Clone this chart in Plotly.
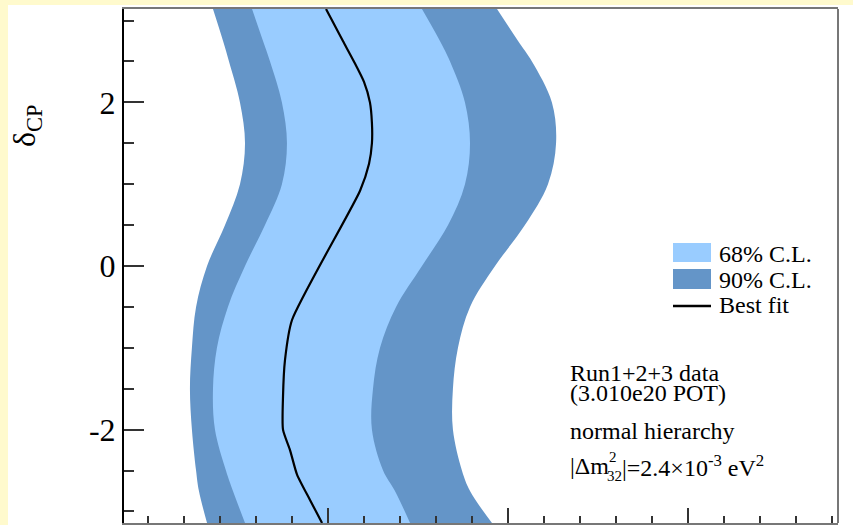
import math
import plotly.graph_objects as go

# Page and plot-area geometry (pixels)
W, H = 853, 525
PLOT_L, PLOT_R, PLOT_T, PLOT_B = 124, 838, 9, 523

# delta_CP sampling (rad) and contour boundaries in sin^2(2 theta13)
delta_cp = [3.1416, 2.75, 2.5, 2.0, 1.5, 1.0, 0.5, 0.0,
            -0.5, -1.0, -1.5, -2.0, -2.5, -2.75, -3.1416]
cl90_left = [0.0361, 0.0417, 0.0450, 0.0511, 0.0539, 0.0511, 0.0428, 0.0328,
             0.0267, 0.0244, 0.0233, 0.0244, 0.0267, 0.0283, 0.0328]
cl68_left = [0.0578, 0.0639, 0.0678, 0.0744, 0.0772, 0.0744, 0.0650, 0.0539,
             0.0444, 0.0383, 0.0361, 0.0372, 0.0433, 0.0472, 0.0539]
cl68_right = [0.1522, 0.1622, 0.1678, 0.1761, 0.1789, 0.1761, 0.1667, 0.1522,
              0.1378, 0.1289, 0.1250, 0.1244, 0.1306, 0.1372, 0.1456]
cl90_right = [0.1939, 0.2056, 0.2133, 0.2244, 0.2267, 0.2222, 0.2094, 0.1928,
              0.1789, 0.1722, 0.1694, 0.1694, 0.1744, 0.1789, 0.1911]

# Best-fit curve, sampled more finely
best_fit_delta = [3.1416, 2.75, 2.5, 2.25, 2.0, 1.75, 1.5, 1.25, 0.92,
                  -0.66, -1.15, -1.6, -2.0, -2.25, -2.55, -2.86, -3.1416]
best_fit = [0.0989, 0.1083, 0.1144, 0.1200, 0.1233, 0.1244, 0.1244, 0.1228,
            0.1178, 0.0800, 0.0761, 0.0750, 0.0750, 0.0789, 0.0828, 0.0900, 0.0967]

y_tickvals = [-2, 0, 2]
y_ticktext = ["-2", "0", "2"]
x_major_ticks = [0.1, 0.2, 0.3]
x_range = [-0.01333, 0.38333]

legend_labels = ["68% C.L.", "90% C.L.", "Best fit"]
info_lines = ["Run1+2+3 data", "(3.010e20 POT)", "normal hierarchy"]

C68 = "#99CCFF"
C90 = "#6495C8"
SERIF = "Liberation Serif, Times New Roman, serif"


def px_x(px):
    return (px - PLOT_L) / (PLOT_R - PLOT_L)


def px_y(py):
    return (PLOT_B - py) / (PLOT_B - PLOT_T)


fig = go.Figure()

# 90% C.L. band
fig.add_trace(go.Scatter(x=cl90_left, y=delta_cp, mode="lines",
                         line=dict(width=0, shape="spline", color=C90),
                         showlegend=False, hoverinfo="skip"))
fig.add_trace(go.Scatter(x=cl90_right, y=delta_cp, mode="lines",
                         line=dict(width=0, shape="spline", color=C90),
                         fill="tonextx", fillcolor=C90,
                         showlegend=False, hoverinfo="skip"))
# 68% C.L. band
fig.add_trace(go.Scatter(x=cl68_left, y=delta_cp, mode="lines",
                         line=dict(width=0, shape="spline", color=C68),
                         showlegend=False, hoverinfo="skip"))
fig.add_trace(go.Scatter(x=cl68_right, y=delta_cp, mode="lines",
                         line=dict(width=0, shape="spline", color=C68),
                         fill="tonextx", fillcolor=C68,
                         showlegend=False, hoverinfo="skip"))
# Best fit
fig.add_trace(go.Scatter(x=best_fit, y=best_fit_delta, mode="lines",
                         line=dict(width=2.2, color="black", shape="spline",
                                   smoothing=0.6),
                         showlegend=False, hoverinfo="skip"))

shapes = [
    # white page panel over the pale yellow surround
    dict(type="rect", xref="paper", yref="paper", layer="below",
         x0=px_x(8), x1=px_x(870), y0=px_y(540), y1=px_y(5),
         fillcolor="white", line=dict(width=0)),
    # right frame edge
    dict(type="line", xref="paper", yref="paper", x0=1, x1=1, y0=0, y1=1,
         line=dict(color="#777777", width=2)),
    # legend swatches
    dict(type="rect", xref="paper", yref="paper",
         x0=px_x(673), x1=px_x(711), y0=px_y(262), y1=px_y(243),
         fillcolor=C68, line=dict(width=0)),
    dict(type="rect", xref="paper", yref="paper",
         x0=px_x(673), x1=px_x(711), y0=px_y(289), y1=px_y(269),
         fillcolor=C90, line=dict(width=0)),
    dict(type="line", xref="paper", yref="paper",
         x0=px_x(673), x1=px_x(711), y0=px_y(306), y1=px_y(306),
         line=dict(color="black", width=2.5)),
]

TXT = 24
CAP = 8.0  # half cap height, baseline -> visual middle
annotations = []
for label, base in zip(legend_labels, [262, 288, 313]):
    annotations.append(dict(text=label, xref="paper", yref="paper",
                            x=px_x(717), y=px_y(base - CAP),
                            xanchor="left", yanchor="middle", showarrow=False,
                            font=dict(family=SERIF, size=TXT, color="black")))
for label, base in zip(info_lines, [381, 401, 439]):
    annotations.append(dict(text=label, xref="paper", yref="paper",
                            x=px_x(568), y=px_y(base - CAP),
                            xanchor="left", yanchor="middle", showarrow=False,
                            font=dict(family=SERIF, size=TXT, color="black")))

# |Δm²₃₂| = 2.4×10⁻³ eV² with stacked super/subscript
mass_base = 474
annotations += [
    dict(text="|Δm", xref="paper", yref="paper", x=px_x(568), y=px_y(mass_base - CAP),
         xanchor="left", yanchor="middle", showarrow=False,
         font=dict(family=SERIF, size=TXT, color="black")),
    dict(text="2", xref="paper", yref="paper", x=px_x(607), y=px_y(mass_base - 17),
         xanchor="left", yanchor="middle", showarrow=False,
         font=dict(family=SERIF, size=15, color="black")),
    dict(text="32", xref="paper", yref="paper", x=px_x(605), y=px_y(mass_base + 2),
         xanchor="left", yanchor="middle", showarrow=False,
         font=dict(family=SERIF, size=15, color="black")),
    dict(text="|=2.4×10<sup>-3</sup> eV<sup>2</sup>", xref="paper", yref="paper",
         x=px_x(620), y=px_y(mass_base - CAP),
         xanchor="left", yanchor="middle", showarrow=False,
         font=dict(family=SERIF, size=TXT, color="black")),
    # y-axis title
    dict(text="δ<sub>CP</sub>", xref="paper", yref="paper",
         x=px_x(27), y=px_y(126), textangle=-90,
         xanchor="center", yanchor="middle", showarrow=False,
         font=dict(family=SERIF, size=32, color="black")),
]

fig.update_layout(
    width=W, height=H,
    margin=dict(l=PLOT_L, r=W - PLOT_R, t=PLOT_T, b=H - PLOT_B, autoexpand=False),
    paper_bgcolor="#FFFACD",
    plot_bgcolor="white",
    shapes=shapes,
    annotations=annotations,
    showlegend=False,
    xaxis=dict(range=x_range, showgrid=False, zeroline=False,
               showline=True, linecolor="#777777", linewidth=2, mirror=True,
               tickmode="array", tickvals=x_major_ticks, showticklabels=False,
               ticks="inside", ticklen=15, tickwidth=2, tickcolor="#333333",
               minor=dict(tick0=0, dtick=0.02, ticks="inside", ticklen=7,
                          tickwidth=2, tickcolor="#333333", showgrid=False)),
    yaxis=dict(range=[-math.pi, math.pi], showgrid=False, zeroline=False,
               showline=True, linecolor="black", linewidth=2,
               tickmode="array", tickvals=y_tickvals, ticktext=y_ticktext,
               ticks="inside", ticklen=20, tickwidth=2, tickcolor="#333333",
               tickfont=dict(family=SERIF, size=32, color="black"),
               minor=dict(tick0=0, dtick=0.5, ticks="inside", ticklen=10,
                          tickwidth=2, tickcolor="#333333", showgrid=False)),
)

fig.write_html("out.html")
